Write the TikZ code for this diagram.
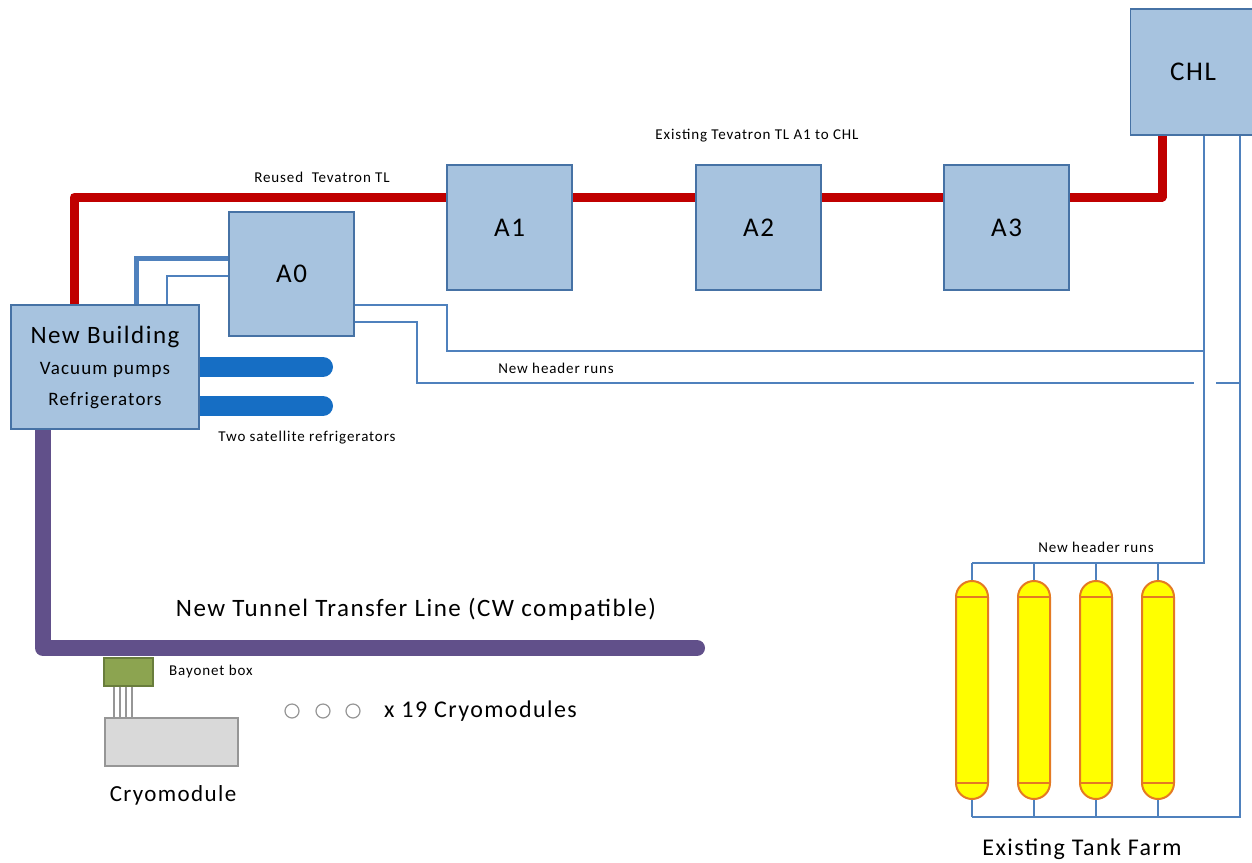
\documentclass[tikz,border=0pt]{standalone}
\usepackage{fontspec}
\setmainfont{Carlito}[LetterSpace=6]
\usetikzlibrary{backgrounds}
\definecolor{boxfill}{RGB}{167,195,223}
\definecolor{boxline}{RGB}{70,114,165}
\definecolor{pipe}{RGB}{79,129,189}
\definecolor{tlred}{RGB}{192,0,0}
\definecolor{satblue}{RGB}{22,110,196}
\definecolor{tunnel}{RGB}{97,80,138}
\definecolor{bayo}{RGB}{140,164,80}
\definecolor{bayoline}{RGB}{105,125,60}
\definecolor{cmfill}{RGB}{217,217,217}
\definecolor{cmline}{RGB}{150,150,150}
\definecolor{tankfill}{RGB}{255,255,0}
\definecolor{tankline}{RGB}{228,122,35}
\tikzset{
  station/.style={draw=boxline, fill=boxfill, line width=1.6pt, inner sep=0pt,
    minimum width=125pt, minimum height=125pt, font=\fontsize{27}{32}\selectfont},
  redline/.style={draw=tlred, line width=9pt, line join=round},
  header/.style={draw=pipe, line width=1.8pt},
  feed/.style={draw=pipe, line width=5pt},
  satbar/.style={draw=satblue, line width=20pt, line cap=round},
  tunnelline/.style={draw=tunnel, line width=16pt, line cap=round, line join=round},
  tank/.style={draw=tankline, fill=tankfill, line width=2pt, rounded corners=16pt,
    minimum width=32pt, minimum height=218pt, inner sep=0pt},
  band/.style={draw=tankline, line width=2pt},
  small/.style={font=\fontsize{15}{18}\selectfont, inner sep=0pt},
  large/.style={font=\fontsize{24}{28}\selectfont, inner sep=0pt},
  dot/.style={draw=cmline, fill=white, line width=1.2pt, circle, minimum size=14pt, inner sep=0pt}
}
\begin{document}
\begin{tikzpicture}[x=1pt,y=-1pt]
\useasboundingbox (0,0) rectangle (1252,862);
\clip (0,0) rectangle (1252,862);

% stations
\node[station, minimum width=188pt, minimum height=124pt, align=center] (nb) at (105,367)
  {\fontsize{25}{29}\selectfont New Building\\[-1pt]
   \fontsize{19}{29}\selectfont Vacuum pumps\\[-1pt]
   \fontsize{19}{29}\selectfont Refrigerators};
\node[station, minimum height=124pt] (a0) at (291.5,274) {A0};
\node[station] (a1) at (509.5,227.5) {A1};
\node[station] (a2) at (758.5,227.5) {A2};
\node[station] (a3) at (1006.5,227.5) {A3};
\node[station, minimum height=126pt] (chl) at (1193,72) {CHL};

% bayonet box and cryomodule
\node[draw=bayoline, fill=bayo, line width=1.2pt, minimum width=49pt, minimum height=28pt, inner sep=0pt] (bb) at (128.5,672) {};
\node[draw=cmline, fill=cmfill, line width=1.6pt, minimum width=133pt, minimum height=48pt, inner sep=0pt] (cm) at (171.5,742) {};

% tanks
\foreach \i/\x in {1/972,2/1034,3/1096,4/1158}{
  \node[tank] (t\i) at (\x,690) {};
}

\begin{scope}[on background layer]
  % reused and existing Tevatron transfer line
  \draw[redline] (nb.north -| 74,0) -- (74,197) -- (a1.west |- 0,197);
  \draw[redline] (a1.east |- 0,197) -- (a2.west |- 0,197);
  \draw[redline] (a2.east |- 0,197) -- (a3.west |- 0,197);
  \draw[redline] (a3.east |- 0,197) -- (1162,197) -- (chl.south -| 1162,0);
  % feeds to A0
  \draw[feed] (nb.north -| 136,0) -- (136,258) -- (a0.west |- 0,258);
  \draw[header] (nb.north -| 167,0) -- (167,276) -- (a0.west |- 0,276);
  % satellite refrigerators
  \draw[satbar] (nb.east |- 0,367) -- (323,367);
  \draw[satbar] (nb.east |- 0,406) -- (323,406);
  % tunnel transfer line
  \draw[tunnelline] (nb.south -| 43,0) -- (43,648) -- (697,648);
\end{scope}

% header runs
\draw[header] (a0.east |- 0,305) -- (447,305) -- (447,351) -- (1204,351);
\draw[header] (a0.east |- 0,322) -- (417,322) -- (417,383) -- (1194,383);
\draw[header] (1216,383) -- (1240,383);
\draw[header] (chl.south -| 1204,0) -- (1204,563) -- (t1.north |- 0,563);
\draw[header] (chl.south -| 1240,0) -- (1240,817) -- (t1.south |- 0,817);
\foreach \i in {1,...,4}{
  \draw[header] (t\i.north) -- (t\i.north |- 0,563);
  \draw[header] (t\i.south) -- (t\i.south |- 0,817);
  \draw[band] (t\i.west |- 0,597) -- (t\i.east |- 0,597);
  \draw[band] (t\i.west |- 0,783) -- (t\i.east |- 0,783);
}

% bayonet connections
\foreach \x in {114,120,126,132}{
  \draw[cmline, line width=1.3pt] (bb.south -| \x,0) -- (cm.north -| \x,0);
}

% dots
\node[dot] (d1) at (292,711) {};
\node[dot] (d2) at (323,711) {};
\node[dot] (d3) at (353,711) {};

% labels
\node[small] (lreused) at (322,177) {Reused\ \ Tevatron TL};
\node[small] (lexist) at (757,136) {Existing Tevatron TL A1 to CHL};
\node[small] (lhdr1) at (556,368) {New header runs};
\node[small] (lsat) at (307,438) {Two satellite refrigerators};
\node[small] (lhdr2) at (1096,547) {New header runs};
\node[small, anchor=west] (lbb) at (169,671) {Bayonet box};
\node[large, font=\fontsize{25}{30}\selectfont] (ltunnel) at (416,609) {New Tunnel Transfer Line (CW compatible)};
\node[large, anchor=west] (l19) at (384,711) {x 19 Cryomodules};
\node[large, font=\fontsize{23}{28}\selectfont] (lcm) at (173,795) {Cryomodule};
\node[large] (ltf) at (1082,849) {Existing Tank Farm};
\end{tikzpicture}
\end{document}
